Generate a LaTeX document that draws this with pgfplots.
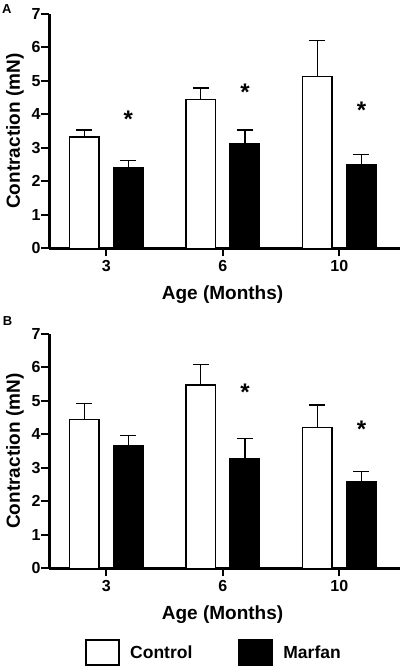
\documentclass[border=0pt]{standalone}
\usepackage{fontspec}
\setmainfont{Liberation Sans}
\usepackage{pgfplots}
\pgfplotsset{compat=1.18}
\usepackage{pgfplotstable}

% xc, xm: bar centres of Control / Marfan within each age group (0,1,2 = 3,6,10 months)
\pgfplotstableread{
xc     c    ce   xm    m    me
-0.189 3.32 0.21 0.189 2.40 0.23
0.811  4.45 0.34 1.189 3.12 0.41
1.811  5.14 1.06 2.189 2.51 0.30
}\dataA
\pgfplotstableread{
xc     c    ce   xm    m    me
-0.189 4.45 0.48 0.189 3.65 0.31
0.811  5.47 0.62 1.189 3.26 0.62
1.811  4.20 0.68 2.189 2.58 0.32
}\dataB

\tikzset{star/.style={font=\fontsize{24}{24}\selectfont\bfseries, yshift=-4pt}}

\pgfplotsset{
  panel/.style={
    scale only axis, width=350.7pt, height=234.3pt,
    xmin=-0.489, xmax=2.521, ymin=0, ymax=7,
    axis x line=bottom, axis y line=left,
    axis line style={-, line width=3pt},
    ytick={0,1,...,7}, xtick={0,1,2}, xticklabels={3,6,10},
    tick align=outside, major tick length=8pt,
    every tick/.style={black, line width=2pt},
    /pgf/number format/assume math mode=true,
    tick label style={font=\fontsize{16}{16}\selectfont\bfseries},
    yticklabel style={inner sep=0pt, xshift=-0.5pt},
    xticklabel style={inner sep=0pt, yshift=-4pt},
    ylabel={Contraction (mN)},
    ylabel style={font=\fontsize{19}{19}\selectfont\bfseries, at={(axis description cs:-0.0978,0.5)}, anchor=center},
    xlabel={Age (Months)},
    xlabel style={font=\fontsize{19}{19}\selectfont\bfseries, at={(axis description cs:0.494,-0.197)}, anchor=center},
    clip=false,
  },
  ctrl/.style={ybar, bar width=29.5pt, bar shift=0pt, draw=black, fill=white, line width=1.5pt,
    error bars/.cd, y dir=plus, y explicit,
    error bar style={line width=1.4pt, black},
    error mark options={rotate=90, mark size=8pt, line width=1.4pt, black}},
  marf/.style={ybar, bar width=29.5pt, bar shift=0pt, draw=black, fill=black, line width=1.5pt,
    error bars/.cd, y dir=plus, y explicit,
    error bar style={line width=1.4pt, black},
    error mark options={rotate=90, mark size=8pt, line width=1.4pt, black}},
}

\begin{document}
\begin{tikzpicture}
\useasboundingbox (0pt,0pt) rectangle (400pt,668pt);

\begin{axis}[panel, at={(49.3pt,419.7pt)}, anchor=south west]
\addplot[ctrl] table[x=xc, y=c, y error=ce] {\dataA};
\addplot[marf] table[x=xm, y=m, y error=me] {\dataA};
\node[star] at (axis cs:0.19,3.98) {*};
\node[star] at (axis cs:1.19,4.78) {*};
\node[star] at (axis cs:2.19,4.25) {*};
\end{axis}

\begin{axis}[panel, at={(49.3pt,99.7pt)}, anchor=south west,
  legend columns=2,
  legend style={draw=none, fill=none, at={(axis description cs:0.1018,-0.3615)}, anchor=west,
    font=\fontsize{17.5}{17.5}\selectfont\bfseries, inner sep=0pt,
    nodes={inner sep=0pt},
    /tikz/every odd column/.append style={column sep=10pt},
    /tikz/every even column/.append style={column sep=46pt}},
  legend image code/.code={\draw[#1, line width=2pt] (0pt,-12.5pt) rectangle (33pt,12.5pt);},
]
\addplot[ctrl] table[x=xc, y=c, y error=ce] {\dataB};
\addlegendentry{Control}
\addplot[marf] table[x=xm, y=m, y error=me] {\dataB};
\addlegendentry{Marfan}
\node[star] at (axis cs:1.19,5.38) {*};
\node[star] at (axis cs:2.19,4.28) {*};
\end{axis}

\node[font=\fontsize{13}{13}\selectfont\bfseries] at (6.7pt,658.8pt) {A};
\node[font=\fontsize{13}{13}\selectfont\bfseries] at (7.5pt,347pt) {B};
\end{tikzpicture}
\end{document}
